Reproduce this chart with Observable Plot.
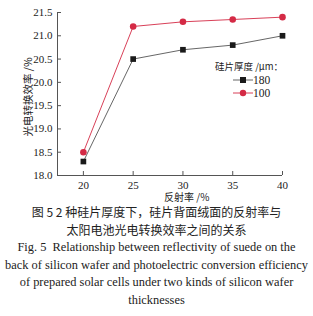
<!DOCTYPE html>
<html><head><meta charset="utf-8">
<script src="https://cdn.jsdelivr.net/npm/d3@7"></script>
<script src="https://cdn.jsdelivr.net/npm/@observablehq/plot@0.6"></script>
<style>
body{margin:0;background:#fff;width:313px;height:316px;overflow:hidden;position:relative;font-family:"Liberation Serif","Noto Sans CJK SC",serif;}
#chart{position:absolute;left:0;top:0;}
.cap{position:absolute;left:0;width:313px;text-align:center;color:#222;white-space:nowrap;}
.zh{font-family:"Noto Sans CJK SC",sans-serif;font-size:12px;}
.en{font-family:"Liberation Serif",serif;font-size:12.4px;}
#legend{position:absolute;left:215px;top:59px;font-size:10.5px;color:#222;}
.lab{position:absolute;font-family:"Noto Sans CJK SC",sans-serif;color:#222;white-space:nowrap;}
</style></head>
<body>
<div id="chart"></div>
<div id="legend"></div>
<div id="xlab" class="lab" style="left:164px;top:192px;font-size:10px;line-height:10px"></div>
<div id="ylab" class="lab" style="left:28px;top:97px;font-size:10.5px;line-height:14px;transform:translate(-50%,-50%) rotate(-90deg);"></div>
<div class="cap zh" style="top:203px">图 5 2 种硅片厚度下，硅片背面绒面的反射率与</div>
<div class="cap zh" style="top:221px">太阳电池光电转换效率之间的关系</div>
<div class="cap en" style="top:240px">Fig. 5&nbsp; Relationship between reflectivity of suede on the</div>
<div class="cap en" style="top:258px">back of silicon wafer and photoelectric conversion efficiency</div>
<div class="cap en" style="top:275px">of prepared solar cells under two kinds of silicon wafer</div>
<div class="cap en" style="top:293px">thicknesses</div>
<script>
const reflectivity = [20, 25, 30, 35, 40];
const eff180 = [18.3, 20.5, 20.7, 20.8, 21.0];
const eff100 = [18.5, 21.2, 21.3, 21.35, 21.4];
const yTicks = [18.0, 18.5, 19.0, 19.5, 20.0, 20.5, 21.0, 21.5];
const xTicks = [20, 25, 30, 35, 40];
const seriesNames = ["180", "100"];
const legendTitle = "硅片厚度 /μm：";
const xLabel = "反射率 /%";
const yLabel = "光电转换效率 /%";

const d180 = reflectivity.map((x, i) => ({x, y: eff180[i]}));
const d100 = reflectivity.map((x, i) => ({x, y: eff100[i]}));
const xMin = 17.4;
const red = "#d42a45", blk = "#1a1a1a";

const chart = Plot.plot({
  width: 313, height: 200,
  marginLeft: 57, marginRight: 31, marginTop: 12, marginBottom: 25,
  style: {fontFamily: "'Liberation Serif', serif", fontSize: "11px", color: "#222", background: "transparent"},
  x: {domain: [xMin, 40]},
  y: {domain: [18, 21.5]},
  marks: [
    Plot.ruleX([xMin], {stroke: "#555", strokeWidth: 1}),
    Plot.ruleY([18], {stroke: "#555", strokeWidth: 1}),
    Plot.axisY({ticks: yTicks, tickFormat: d3.format(".1f"), tickSize: -4, tickPadding: 9, stroke: "#555", label: null, fontSize: 11}),
    Plot.axisX({ticks: xTicks, tickFormat: d => d, tickSize: -4, tickPadding: 10, stroke: "#555", label: null, fontSize: 11}),
    Plot.line(d180, {x: "x", y: "y", stroke: "#555", strokeWidth: 0.9}),
    Plot.line(d100, {x: "x", y: "y", stroke: red, strokeWidth: 0.9}),
    Plot.dot(d180, {x: "x", y: "y", symbol: "square", r: 3.2, fill: blk, stroke: "none"}),
    Plot.dot(d100, {x: "x", y: "y", symbol: "circle", r: 3.3, fill: red, stroke: "none"})
  ]
});
document.getElementById("chart").appendChild(chart);
document.getElementById("xlab").textContent = xLabel;
document.getElementById("ylab").textContent = yLabel;

const lg = document.getElementById("legend");
const colors = [blk, red], lineCols = ["#555", red], syms = ["sq", "ci"];
let html = `<div style="font-family:'Noto Sans CJK SC',sans-serif;font-size:9.5px;line-height:14px">${legendTitle}</div>`;
seriesNames.forEach((s, i) => {
  const mark = syms[i] === "sq" ? `<rect x="7" y="3" width="6" height="6" fill="${colors[i]}"/>` : `<circle cx="10" cy="6" r="3.2" fill="${colors[i]}"/>`;
  html += `<div style="display:flex;align-items:center;height:13px;margin-left:18px"><svg width="20" height="12"><line x1="0" y1="6" x2="20" y2="6" stroke="${lineCols[i]}" stroke-width="0.9"/>${mark}</svg><span style="font-size:11.5px;font-family:'Liberation Serif',serif">${s}</span></div>`;
});
lg.innerHTML = html;
</script>
</body></html>
